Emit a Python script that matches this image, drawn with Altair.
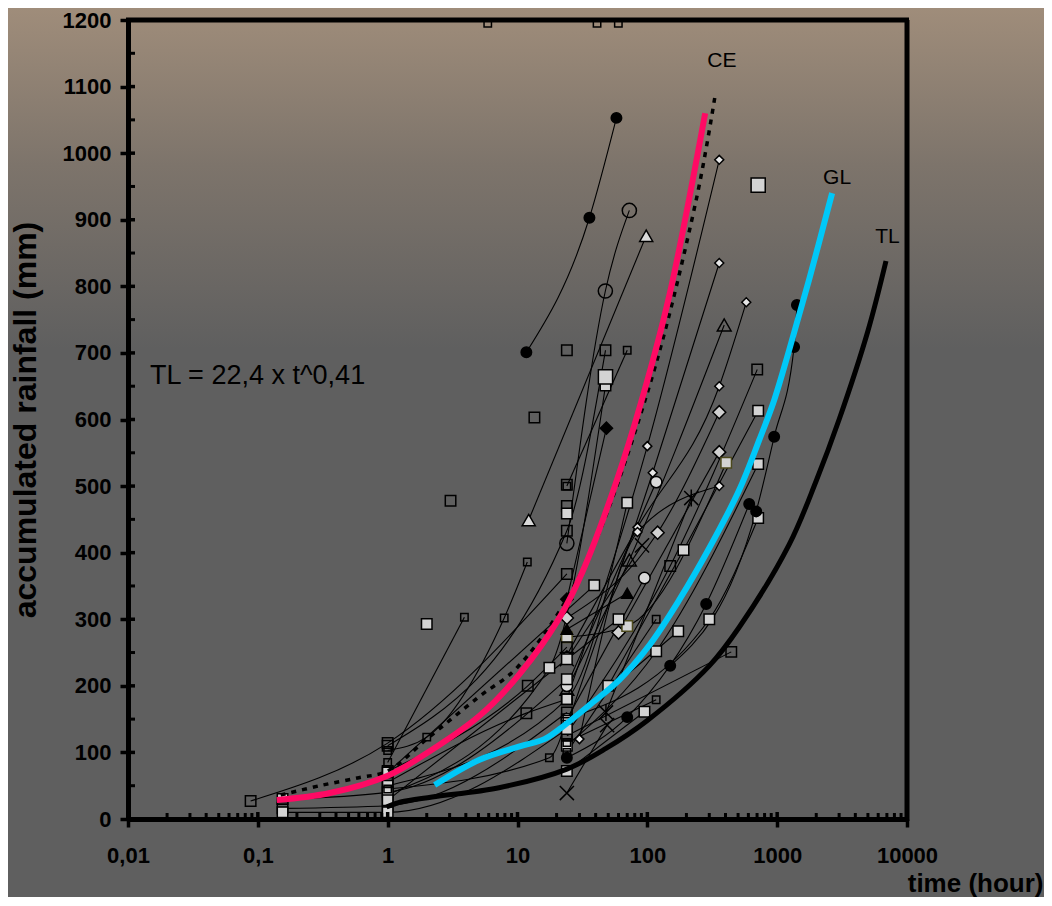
import altair as alt
import pandas as pd

# ---------------- thick reference curves ----------------
CE_T = [0.14, 0.36, 1.0, 1.76, 5.1, 10.4, 21, 31.6, 57.8, 91.5, 148, 279]
CE_MM = [28.5, 39, 65, 92, 155, 218, 302, 371, 507, 632, 787, 1060]
GL_T = [2.3, 5.1, 10.4, 16.1, 21, 35.8, 60.9, 103.6, 176, 300, 510, 727, 948, 1236, 1762, 2650]
GL_MM = [51, 89, 109, 120, 135, 171, 209, 261, 329, 407, 494, 569, 629, 704, 810, 940]
TL_T = [0.98, 1.26, 2.2, 7.2, 24, 48, 100, 300, 510, 1236, 2000, 3000, 5000, 6890]
TL_MM = [18, 25.5, 33, 47, 75, 106, 148, 230, 288, 412, 508, 600, 733, 838]
DOT_T = [0.15, 0.3, 0.6, 1, 2, 5, 10, 30, 100, 238, 333]
DOT_MM = [36, 50, 62, 72, 120, 183, 228, 365, 640, 930, 1087]

# ---------------- individual events (time h, rainfall mm) ----------------
S01_T, S01_MM = [11.7, 35.8, 57.8], [701, 903, 1053]
S02_T, S02_MM = [24, 47.5, 72.7], [414, 793, 914]
S03_T, S03_MM = [12.2, 98], [449, 876]
S04_T, S04_MM = [24, 72.7, 391], [195, 389, 742]
S05_T, S05_MM = [24, 100, 358], [180, 560, 990]
S06_T, S06_MM = [24, 110, 358], [140, 520, 835]
S07_T, S07_MM = [24, 84, 358, 578], [246, 438, 650, 776]
S08_T, S08_MM = [24, 120, 358], [302, 430, 611]
S09_T, S09_MM = [60, 358], [280, 551]
S10_T, S10_MM = [30, 84, 358], [120, 431, 500]
S11_T, S11_MM = [24, 70, 405], [273, 290, 535]
S12_T, S12_MM = [24, 150, 702], [128, 380, 675]
S13_T, S13_MM = [50, 190, 714], [200, 404, 613]
S14_T, S14_MM = [24, 117, 714], [110, 252, 533]
S15_T, S15_MM = [24, 300, 714], [150, 300, 452]
S16_T, S16_MM = [24, 70, 284, 609], [92, 153, 323, 473]
S17_T, S17_MM = [150, 689, 948, 1350, 1420], [230, 462, 574, 709, 772]
S18_T, S18_MM = [24, 117], [200, 506]
S19_T, S19_MM = [24, 95], [150, 362]
S20_T, S20_MM = [48, 218], [160, 482]
S21_T, S21_MM = [1, 24, 70], [50, 180, 475]
S22_T, S22_MM = [24, 48.4], [330, 587]
S23_T, S23_MM = [1, 17.6, 47.6], [37, 227, 651]
S24_T, S24_MM = [24, 70], [500, 704]
S25_T, S25_MM = [1, 24, 47.6], [110, 433, 704]
S26_T, S26_MM = [24, 91], [240, 411]
S27_T, S27_MM = [1, 39], [70, 351]
S28_T, S28_MM = [24, 173], [140, 282]
S29_T, S29_MM = [24, 117], [100, 300]
S30_T, S30_MM = [24, 443], [125, 251]
S31_T, S31_MM = [24, 70], [285, 339]
S32_T, S32_MM = [24, 95], [72, 161]
S33_T, S33_MM = [24, 49], [39, 141]
S34_T, S34_MM = [24, 117], [115, 179]
S35_T, S35_MM = [0.088, 1, 24], [27, 114, 368]
S36_T, S36_MM = [0.155, 1, 24], [30, 40, 210]
S37_T, S37_MM = [0.155, 1, 24], [16, 20, 160]
S38_T, S38_MM = [0.155, 1, 24], [10, 10, 135]
S39_T, S39_MM = [1, 2, 7.9, 11.9], [103, 123, 302, 386]
S40_T, S40_MM = [1, 3.9], [85, 303]
S41_T, S41_MM = [1, 12, 24], [72, 200, 258]
S42_T, S42_MM = [1, 11.7, 24], [55, 159, 180]
S43_T, S43_MM = [1, 17.6, 24], [45, 92, 150]
S44_T, S44_MM = [1, 24, 60], [28, 240, 300]

SERIES_STYLE = ["dot", "circ_open", "tri_light", "tri_open", "dia_small", "dia_small",
                "dia_small", "dia_big", "dia_big", "dia_small", "sq_olive", "sq_open",
                "sq_light", "sq_light", "sq_light", "dot", "dot", "circ_light",
                "circ_light", "ast", "sq_light", "dia_black", "sq_light", "sq_open_s",
                "sq_open", "x", "sq_light", "sq_light", "sq_open_s", "sq_open",
                "tri_black", "sq_light", "x", "sq_open_s", "sq_open", "sq_light",
                "sq_open", "sq_light", "sq_open_s", "sq_open_s", "sq_open", "sq_open",
                "sq_open_s", "sq_light"]

# isolated points
ST_T = [5.9, 41, 59.8, 24, 13.5, 3.05, 2, 714, 47.6, 24, 24, 24]
ST_MM = [1195, 1195, 1195, 704, 603, 478, 293, 952, 664, 502, 470, 459]
ST_STYLE = ["sq_open_s", "sq_open_s", "sq_open_s", "sq_open", "sq_open", "sq_open",
            "sq_light", "sq_big", "sq_big", "sq_open", "sq_open", "sq_light"]

LABEL_TEXT = ["CE", "GL", "TL"]
LABEL_T = [375, 2894, 7080]
LABEL_MM = [1139, 962, 874]
FORMULA_TEXT = ["TL = 22,4 x t^0,41"]
FORMULA_T = [0.0148]
FORMULA_MM = [666]

X_TICKS = [0.01, 0.1, 1, 10, 100, 1000, 10000]
Y_TICKS = list(range(0, 1300, 100))
X_MINOR = [d * k for d in [0.01, 0.1, 1, 10, 100, 1000] for k in range(2, 10)]
Y_MINOR = list(range(50, 1200, 100))

# ---------------- styles ----------------
X_PATH = "M-1,-1L1,1M-1,1L1,-1"
AST_PATH = "M-1,-1L1,1M-1,1L1,-1M0,-1.2L0,1.2"
STYLE = {
    "dot": ("circle", "#000000", 110, "#000000"),
    "circ_open": ("circle", "transparent", 200, "#000000"),
    "circ_light": ("circle", "#d9d9d9", 130, "#000000"),
    "tri_light": ("triangle-up", "#d9d9d9", 170, "#000000"),
    "tri_open": ("triangle-up", "transparent", 190, "#000000"),
    "tri_black": ("triangle-up", "#000000", 130, "#000000"),
    "dia_small": ("diamond", "#e6e6e6", 80, "#000000"),
    "dia_big": ("diamond", "#d0d0d0", 170, "#000000"),
    "dia_black": ("diamond", "#000000", 150, "#000000"),
    "sq_open_s": ("square", "transparent", 55, "#000000"),
    "sq_open": ("square", "transparent", 110, "#000000"),
    "sq_light": ("square", "#d3d3d3", 110, "#000000"),
    "sq_big": ("square", "#d3d3d3", 200, "#000000"),
    "sq_olive": ("square", "#d3d3d3", 110, "#4d4a1e"),
    "x": (X_PATH, "transparent", 200, "#000000"),
    "ast": (AST_PATH, "transparent", 200, "#000000"),
}

SERIES = [(globals()[f"S{i:02d}_T"], globals()[f"S{i:02d}_MM"]) for i in range(1, 45)]

line_rows, pt_rows = [], []
for i, ((tt, mm), st) in enumerate(zip(SERIES, SERIES_STYLE)):
    shp, fil, siz, stk = STYLE[st]
    for a, b in zip(tt, mm):
        line_rows.append({"sid": f"s{i}", "t": a, "mm": b})
        pt_rows.append({"t": a, "mm": b, "shape": shp, "fill": fil, "size": siz, "stroke": stk})
for a, b, st in zip(ST_T, ST_MM, ST_STYLE):
    shp, fil, siz, stk = STYLE[st]
    pt_rows.append({"t": a, "mm": b, "shape": shp, "fill": fil, "size": siz, "stroke": stk})

lines_df = pd.DataFrame(line_rows)
pts_df = pd.DataFrame(pt_rows)

W, H = 779, 799
FONT = "Liberation Sans"

AX_X = alt.Axis(values=X_TICKS, title="time (hour)",
                labelExpr="replace(toString(datum.value), '.', ',')",
                labelFont=FONT, labelFontSize=22, labelFontWeight="bold", labelColor="black",
                labelPadding=18, labelFlush=False, labelOverlap=False, labelBound=False,
                tickSize=8, tickWidth=3.5, tickColor="black",
                domainColor="black", domainWidth=5, grid=False, zindex=2,
                titleFont=FONT, titleFontSize=26, titleFontWeight="bold", titleColor="black",
                titleX=915, titleY=64, titleAlign="right", titleBaseline="middle")
AX_Y = alt.Axis(values=Y_TICKS, title="accumulated rainfall (mm)", format="d",
                labelFont=FONT, labelFontSize=22, labelFontWeight="bold", labelColor="black",
                labelPadding=9, labelOverlap=False, labelFlush=False,
                tickSize=8, tickWidth=3.5, tickColor="black",
                domainColor="black", domainWidth=5, grid=False, zindex=2,
                titleFont=FONT, titleFontSize=32, titleFontWeight="bold", titleColor="black",
                titleAngle=270, titleX=-103, titleY=H / 2, titleAlign="center",
                titleBaseline="middle")

X_ENC = alt.X("t:Q", scale=alt.Scale(type="log", domain=[0.01, 10000], nice=False), axis=AX_X)
Y_ENC = alt.Y("mm:Q", scale=alt.Scale(domain=[0, 1200], nice=False, zero=False), axis=AX_Y)

one = pd.DataFrame({"k": [0]})
bg = alt.Chart(one).mark_rect(
    fill=alt.LinearGradient(
        gradient="linear",
        stops=[alt.GradientStop(color="#a18e7b", offset=0),
               alt.GradientStop(color="#7d746b", offset=0.18),
               alt.GradientStop(color="#5f5f5f", offset=0.38),
               alt.GradientStop(color="#5f5f5f", offset=1)],
        x1=0, x2=0, y1=0, y2=1),
    strokeWidth=0,
).encode(x=alt.value(-130), x2=alt.value(W + 160), y=alt.value(-20), y2=alt.value(H + 100))

xminor = alt.Chart(pd.DataFrame({"t": X_MINOR})).mark_rule(color="black", strokeWidth=3).encode(
    x=X_ENC, y=alt.value(H), y2=alt.value(H - 6))
xmajor_in = alt.Chart(pd.DataFrame({"t": X_TICKS})).mark_rule(color="black", strokeWidth=3.5).encode(
    x=X_ENC, y=alt.value(H), y2=alt.value(H - 7))
yminor = alt.Chart(pd.DataFrame({"mm": Y_MINOR})).mark_rule(color="black", strokeWidth=3).encode(
    y=Y_ENC, x=alt.value(0), x2=alt.value(7))
ymajor_in = alt.Chart(pd.DataFrame({"mm": Y_TICKS})).mark_rule(color="black", strokeWidth=3.5).encode(
    y=Y_ENC, x=alt.value(0), x2=alt.value(7))

top_border = alt.Chart(one).mark_rule(color="black", strokeWidth=5).encode(
    x=alt.value(-2), x2=alt.value(W + 2), y=alt.value(0))
right_border = alt.Chart(one).mark_rule(color="black", strokeWidth=5).encode(
    x=alt.value(W), y=alt.value(0), y2=alt.value(H + 2))

thin = alt.Chart(lines_df).mark_line(color="black", strokeWidth=1.1, interpolate="monotone").encode(
    x=X_ENC, y=Y_ENC, detail="sid:N")

pts = alt.Chart(pts_df).mark_point(filled=True, opacity=1, strokeWidth=1.5).encode(
    x=X_ENC, y=Y_ENC,
    shape=alt.Shape("shape:N", scale=None),
    fill=alt.Fill("fill:N", scale=None),
    stroke=alt.Stroke("stroke:N", scale=None),
    size=alt.Size("size:Q", scale=None))


def curve(tt, mm, color, width, dash=None, interp="catmull-rom"):
    kw = dict(color=color, strokeWidth=width, interpolate=interp, strokeCap="butt")
    if dash:
        kw["strokeDash"] = dash
    return alt.Chart(pd.DataFrame({"t": tt, "mm": mm})).mark_line(**kw).encode(x=X_ENC, y=Y_ENC)


tl = curve(TL_T, TL_MM, "#000000", 5)
gl = curve(GL_T, GL_MM, "#00c8f8", 6)
dot = curve(DOT_T, DOT_MM, "#000000", 3.5, [5, 6])
ce = curve(CE_T, CE_MM, "#ff0a64", 6)

labels = alt.Chart(pd.DataFrame({"t": LABEL_T, "mm": LABEL_MM, "txt": LABEL_TEXT})).mark_text(
    font=FONT, fontSize=21, color="black", align="center", baseline="middle").encode(
    x=X_ENC, y=Y_ENC, text="txt:N")
formula = alt.Chart(pd.DataFrame({"t": FORMULA_T, "mm": FORMULA_MM, "txt": FORMULA_TEXT})).mark_text(
    font=FONT, fontSize=27, color="black", align="left", baseline="middle").encode(
    x=X_ENC, y=Y_ENC, text="txt:N")

chart = alt.layer(
    bg, thin, pts, tl, gl, dot, ce, labels, formula,
    xminor, xmajor_in, yminor, ymajor_in, top_border, right_border,
).properties(
    width=W, height=H,
    padding={"left": 120, "top": 12, "right": 137, "bottom": 78},
    autosize=alt.AutoSizeParams(type="none"),
).configure(background="#5f5f5f").configure_view(strokeWidth=0)

chart.save("out.html", embed_options={"renderer": "svg", "actions": False})
